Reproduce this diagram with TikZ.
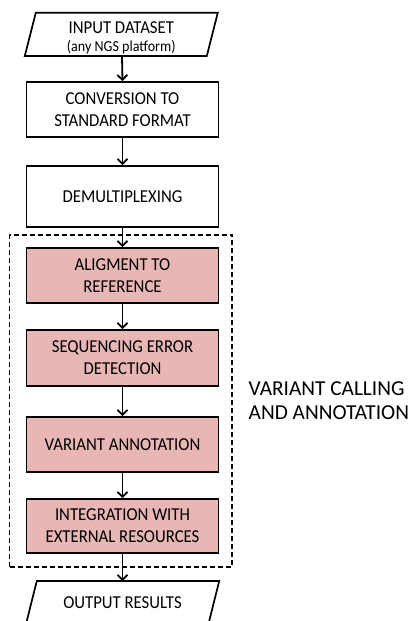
\documentclass[tikz,border=0pt]{standalone}
\usepackage{fontspec}
\setmainfont{Carlito}[FakeStretch=0.92]
\newfontfamily\labelfont{Carlito}
\usetikzlibrary{arrows.meta}
\definecolor{boxpink}{RGB}{233,182,182}
\tikzset{
  box/.style={draw=black, line width=1.7pt, minimum width=192pt, align=center, inner sep=0pt,
    font=\fontsize{18.2}{22}\selectfont},
  pinkbox/.style={box, fill=boxpink},
  slantbox/.style={minimum width=182pt, minimum height=43.5pt, align=center, inner sep=0pt,
    font=\fontsize{18.2}{22}\selectfont},
  slantline/.style={line width=1.7pt, line join=miter},
  arr/.style={line width=1.8pt, -{Straight Barb[length=5pt,width=10pt,line width=1.8pt]}},
}
\begin{document}
\begin{tikzpicture}[x=1pt,y=-1pt]
\useasboundingbox (0,0) rectangle (415,621);
% input
\node[slantbox] (in) at (121.3,37.5) {INPUT DATASET\\[-4pt]{\fontsize{15.3}{17}\selectfont (any NGS platform)}};
\draw[slantline] ([shift={(-85.5,-24.8)}]in.center) -- ([shift={(96.5,-24.8)}]in.center)
  -- ([shift={(85.5,18.5)}]in.center) -- ([shift={(-96.5,18.5)}]in.center) -- cycle;
\coordinate (inbot) at ([shift={(0.7,18.5)}]in.center);
\node[box, minimum height=55pt] (conv) at (122.5,109.5) {CONVERSION TO\\STANDARD FORMAT};
\node[box, minimum height=61pt] (demux) at (122.5,196.5) {DEMULTIPLEXING};
% dashed region
\node[draw, dash pattern=on 5pt off 3pt, line width=1.6pt, minimum width=222.5pt, minimum height=332pt, inner sep=0pt]
  (region) at (120.75,400.7) {};
\node[pinkbox, minimum height=55pt] (align) at (122.5,275.5) {ALIGMENT TO\\REFERENCE};
\node[pinkbox, minimum height=56pt] (seq) at (122.5,358) {SEQUENCING ERROR\\DETECTION};
\node[pinkbox, minimum height=55pt] (var) at (122.5,444.5) {VARIANT ANNOTATION};
\node[pinkbox, minimum height=54pt] (integ) at (122.5,526) {INTEGRATION WITH\\EXTERNAL RESOURCES};
% output
\node[slantbox] (out) at (122.5,603) {OUTPUT RESULTS};
\draw[slantline] ([xshift=5.5pt]out.north west) -- ([xshift=5.5pt]out.north east)
  -- ([xshift=-5.5pt]out.south east) -- ([xshift=-5.5pt]out.south west) -- cycle;
% label
\node[anchor=west, align=left, inner sep=0pt, font=\labelfont\fontsize{21.3}{24.5}\selectfont] (label) at (248.5,400.5)
  {VARIANT CALLING\\AND ANNOTATION};
% arrows
\draw[arr] (inbot) -- (conv.north);
\draw[arr] (conv) -- (demux);
\draw[arr] (demux) -- (align);
\draw[arr] (align) -- (seq);
\draw[arr] (seq) -- (var);
\draw[arr] (var) -- (integ);
\draw[arr] (integ.south) -- (out.north);
\end{tikzpicture}
\end{document}
